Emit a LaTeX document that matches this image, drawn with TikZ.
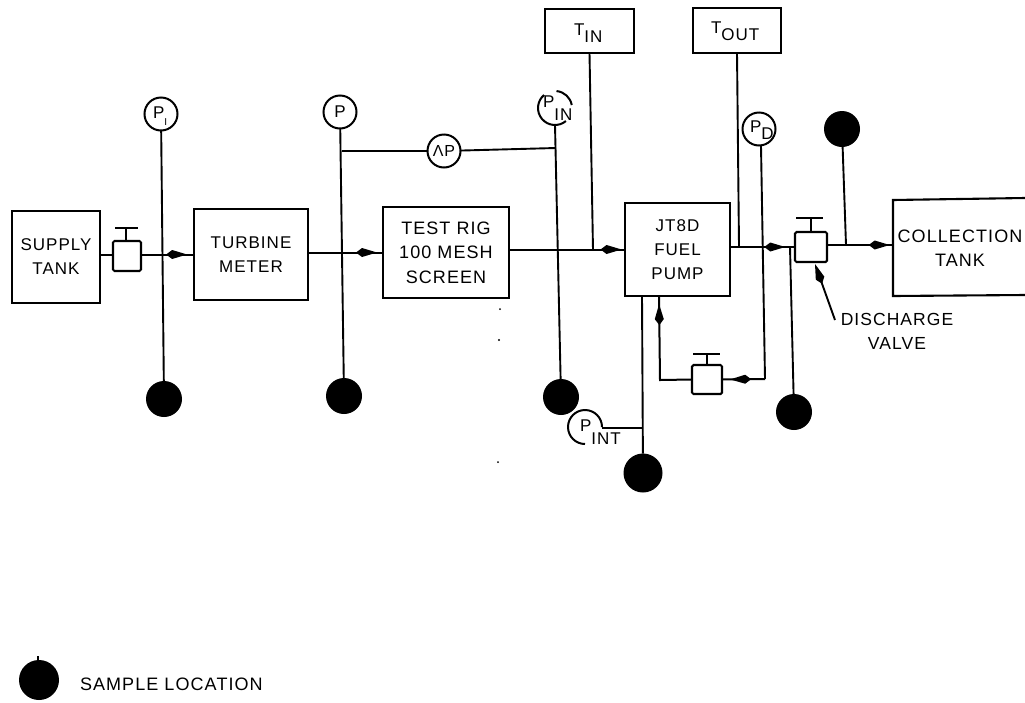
\documentclass[tikz,border=0pt]{standalone}
\usepackage{fontspec}
\setmainfont{Liberation Sans}[LetterSpace=6]
\usetikzlibrary{arrows.meta,decorations.markings}
\newcommand{\bigtxt}{\fontsize{18}{24.5}\selectfont}
\tikzset{
  x=1pt,y=-1pt,
  every node/.style={font=\fontsize{17}{24}\selectfont,inner sep=0pt,outer sep=0pt},
  boxn/.style={draw,line width=2.1pt,align=center,anchor=center},
  gauge/.style={draw,circle,fill=white,line width=2pt,minimum size=33pt},
  blackdot/.style={circle,fill=black,minimum size=36pt},
  valvebody/.style={draw,rounded corners=1.5pt,line width=2.1pt,fill=white},
  pipe/.style={line width=1.9pt},
  sublabel/.style={anchor=base west,font=\fontsize{17}{18}\selectfont},
  flow/.style={pipe,line width=2pt,postaction={decorate},decoration={markings,mark=at position #1 with {\arrow{Kite[length=21pt,width=9pt,inset=6pt]}}}},
  pointer/.style={pipe,-{Kite[length=21pt,width=9pt,inset=6pt]}},
}
\begin{document}
\begin{tikzpicture}
\useasboundingbox (0,0) rectangle (1025,702);
% boxes
\node[boxn,minimum width=88pt,minimum height=92pt] (supply) at (56,257) {SUPPLY\\TANK\hspace{3pt}};
\node[boxn,minimum width=114pt,minimum height=91pt] (turbine) at (251,254.5) {TURBINE\\METER\hspace{8pt}};
\node[boxn,minimum width=126pt,minimum height=91pt,font=\bigtxt] (rig) at (446,252.5) {TEST RIG\\100 MESH\\SCREEN};
\node[boxn,minimum width=105pt,minimum height=93pt] (pump) at (677.5,249.5) {JT8D\\FUEL\\PUMP};
\node[boxn,minimum width=89pt,minimum height=44pt] (tin) at (589.5,31) {};
\node[sublabel] (tint) at (574,35) {T\raisebox{-7pt}{IN}};
\node[boxn,minimum width=88pt,minimum height=45pt] (tout) at (737,30.5) {};
\node[sublabel] (toutt) at (711,33) {T\raisebox{-7pt}{OUT}};
% collection tank runs off the right edge
\coordinate (ctl) at (893,200);
\coordinate (cbl) at (893,296);
\coordinate (ctr) at (1025,198);
\coordinate (cbr) at (1025,295);
\draw[line width=2.1pt] (ctr) -- (ctl) -- (cbl) -- (cbr);
\node[font=\bigtxt,align=center] (collection) at (960,248) {COLLECTION\\TANK\hspace{14pt}};
% valves
\node[valvebody,minimum width=28pt,minimum height=30pt] (v1) at (127,256) {};
\node[valvebody,minimum width=32pt,minimum height=30pt] (v2) at (811,247) {};
\node[valvebody,minimum width=30pt,minimum height=29pt] (v3) at (707,379.5) {};
\coordinate (v1h) at (126,228); \coordinate (v1a) at (115,228); \coordinate (v1b) at (138,228);
\coordinate (v2h) at (811,218); \coordinate (v2a) at (796,218); \coordinate (v2b) at (823,218);
\coordinate (v3h) at (707,354); \coordinate (v3a) at (693,354); \coordinate (v3b) at (720,354);
\draw[pipe,line width=2.1pt] (v1h) -- (v1.north -| v1h) (v1a) -- (v1b);
\draw[pipe,line width=2.1pt] (v2h) -- (v2.north -| v2h) (v2a) -- (v2b);
\draw[pipe,line width=2.1pt] (v3h) -- (v3.north -| v3h) (v3a) -- (v3b);
% gauges and sample points
\node[gauge] (pi) at (161,114) {};
\node[sublabel] (pit) at (153,118) {P\raisebox{-7pt}{\fontsize{10}{10}\selectfont I}};
\node[gauge] (p) at (340,112) {P};
\node[gauge] (dp) at (444,151) {};
\node[font=\fontsize{16}{18}\selectfont] (dpt) at (444,151) {ΛP};
\node[gauge] (pd) at (759,129) {};
\node[sublabel] (pdt) at (750,132) {P\raisebox{-7pt}{D}};
\coordinate (pinc) at (555,108);
\draw[line width=2pt] (pinc) ++(-85:17) arc (-85:-10:17);
\draw[line width=2pt] (pinc) ++(50:17) arc (50:230:17);
\node[sublabel] (pin) at (543,107) {P\raisebox{-13pt}{IN}};
\coordinate (pintc) at (585,427);
\draw[line width=2pt] (pintc) ++(0:17) arc (0:-270:17);
\node[sublabel] (pint) at (580,431) {P\raisebox{-13pt}{INT}};
\node[blackdot] (s1) at (164,399) {};
\node[blackdot] (s2) at (344,396) {};
\node[blackdot] (s3) at (561,397) {};
\node[blackdot,minimum size=39pt] (s4) at (643,473) {};
\node[blackdot] (s5) at (794,412) {};
\node[blackdot] (s6) at (842,129) {};
\node[blackdot,minimum size=40pt] (legend) at (39,680) {};
\coordinate (legendtop) at (38,656);
\draw[pipe] (legend.north -| legendtop) -- (legendtop);
\node[anchor=west,font=\fontsize{18}{20}\selectfont] (legendt) at (80,684) {SAMPLE LOCATION};
% junction coordinates
\coordinate (jdpl) at (342,151);
\coordinate (jdpr) at (556,148);
\coordinate (jtin) at (593,250);
\coordinate (jtout) at (739,246);
\coordinate (jpd) at (765,379);
\coordinate (jret) at (660,380);
\coordinate (jpintl) at (602,428);
\coordinate (jpintr) at (643,428);
\coordinate (js6) at (846,245);
\coordinate (js5) at (790,247);
\coordinate (pdtop) at (761,146);
\coordinate (pumpret) at (659,296);
\coordinate (pumpbot) at (642,296);
\coordinate (v2out) at (827,245);
% main flow
\draw[pipe] (supply.east |- 0,255) -- (v1.west |- 0,255);
\draw[flow=0.87] (v1.east |- turbine) -- (turbine.west);
\draw[flow=0.92] (turbine.east |- rig) -- (rig.west);
\draw[flow=0.97] (rig.east |- pump) -- (pump.west);
\draw[flow=0.85] (pump.east |- v2) -- (v2.west);
\draw[flow=0.95] (v2out) -- (ctl |- v2out);
% instrument lines
\draw[pipe] (pi) -- (s1);
\draw[pipe] (p) -- (s2);
\draw[pipe] (jdpl) -- (dp);
\draw[pipe] (dp) -- (jdpr);
\draw[pipe] (555,125) -- (s3);
\draw[pipe] (tin.south) -- (jtin);
\draw[pipe] (tout.south) -- (jtout);
\draw[pipe] (pdtop) -- (jpd);
\draw[flow=0.81] (jpd) -- (v3.east);
\draw[flow=0.93] (v3.west) -- (jret) -- (pumpret);
\draw[pipe] (pumpbot) -- (s4);
\draw[pipe] (jpintl) -- (jpintr);
\draw[pipe] (s6) -- (js6);
\draw[pipe] (js5) -- (s5);
% discharge valve label
\coordinate (dvfrom) at (835,320);
\coordinate (dvto) at (815,264);
\draw[pointer] (dvfrom) -- (dvto);
\node[font=\fontsize{17.5}{24}\selectfont,anchor=center,align=center] (dvt) at (897,331) {DISCHARGE\\VALVE\hspace{24pt}};
% specks
\fill (500,309) circle (1pt) (499,340) circle (1.2pt) (498,462) circle (1pt);
\end{tikzpicture}
\end{document}
